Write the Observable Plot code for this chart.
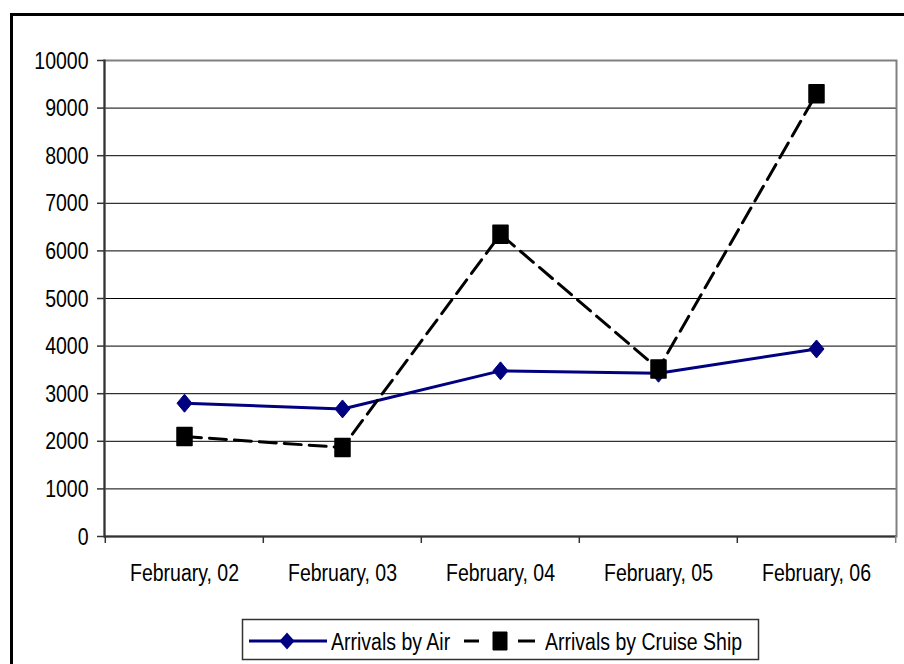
<!DOCTYPE html>
<html>
<head>
<meta charset="utf-8">
<script src="https://cdn.jsdelivr.net/npm/d3@7"></script>
<script src="https://cdn.jsdelivr.net/npm/@observablehq/plot@0.6"></script>
<style>
  html, body { margin: 0; padding: 0; width: 904px; height: 664px; overflow: hidden; background: #fff; }
  #wrap { position: relative; width: 904px; height: 664px; font-family: "Liberation Sans", Arial, sans-serif; }
  #outer { position: absolute; left: 10px; top: 13px; width: 1000px; height: 1000px; border: 3px solid #000; box-sizing: border-box; }
  #chart { position: absolute; left: 0; top: 0; }
  #legend { position: absolute; left: 0; top: 0; }
</style>
</head>
<body>
<div id="wrap">
  <div id="outer"></div>
  <div id="chart"></div>
  <svg id="legend" width="904" height="664"></svg>
</div>
<script>
const categories = ["February, 02", "February, 03", "February, 04", "February, 05", "February, 06"];
const airArrivals = [2800, 2680, 3480, 3430, 3940];
const cruiseArrivals = [2100, 1870, 6350, 3520, 9300];
const yTicks = [0, 1000, 2000, 3000, 4000, 5000, 6000, 7000, 8000, 9000, 10000];
const seriesNames = ["Arrivals by Air", "Arrivals by Cruise Ship"];

const airData = categories.map((c, i) => ({category: c, value: airArrivals[i]}));
const cruiseData = categories.map((c, i) => ({category: c, value: cruiseArrivals[i]}));

const W = 904, H = 610;
const mL = 104, mR = 8, mT = 60, mB = H - 536;
const bw = (W - mL - mR) / categories.length;
const FS = 19.5;

const diamond = {draw(ctx) { ctx.moveTo(0, -9); ctx.lineTo(7.5, 0); ctx.lineTo(0, 9); ctx.lineTo(-7.5, 0); ctx.closePath(); }};
const square = {draw(ctx) { ctx.rect(-7.5, -9, 15, 18); }};

const fontFam = '"Liberation Sans", Arial, sans-serif';

const plot = Plot.plot({
  width: W, height: H,
  marginLeft: mL, marginRight: mR, marginTop: mT, marginBottom: mB,
  style: {fontFamily: fontFam, fontSize: FS + "px", color: "#000", background: "transparent", overflow: "visible"},
  x: {type: "band", domain: categories, padding: 0, label: null},
  y: {domain: [0, 10000], label: null},
  marks: [
    Plot.gridY(yTicks.filter(t => t > 0 && t < 10000), {stroke: "#000", strokeOpacity: 1, strokeWidth: 1}),
    Plot.frame({stroke: "#808080", strokeWidth: 2}),
    Plot.frame({anchor: "left", stroke: "#333", strokeWidth: 2}),
    Plot.ruleY([0], {stroke: "#333", strokeWidth: 2}),
    Plot.axisY(yTicks, {tickSize: 7, tickPadding: 9, stroke: "#333", strokeWidth: 1.5, fontSize: FS, tickFormat: d => String(d), label: null}),
    Plot.axisX({tickSize: 0, tickPadding: 29, fontSize: FS, label: null}),
    Plot.ruleX(categories, {x: d => d, dx: -bw / 2, y1: 0, y2: 0, insetBottom: -7, stroke: "#333", strokeWidth: 1.5}),
    Plot.ruleX(categories.slice(-1), {x: d => d, dx: bw / 2, y1: 0, y2: 0, insetBottom: -7, stroke: "#808080", strokeWidth: 1.5}),
    Plot.line(airData, {x: "category", y: "value", stroke: "#000080", strokeWidth: 3}),
    Plot.dot(airData, {x: "category", y: "value", symbol: diamond, fill: "#000080", stroke: "#000080", strokeWidth: 1}),
    Plot.line(cruiseData, {x: "category", y: "value", stroke: "#000", strokeWidth: 3, strokeDasharray: "17,8"}),
    Plot.dot(cruiseData, {x: "category", y: "value", symbol: square, fill: "#000", stroke: "#000", strokeWidth: 1.5, strokeLinejoin: "round"})
  ]
});
document.getElementById("chart").appendChild(plot);

// Legend
const lg = d3.select("#legend");
lg.append("rect").attr("x", 242.5).attr("y", 619.5).attr("width", 516).attr("height", 40)
  .attr("fill", "#fff").attr("stroke", "#333").attr("stroke-width", 1.5);
const ly = 641;
lg.append("line").attr("x1", 249).attr("x2", 327).attr("y1", ly).attr("y2", ly).attr("stroke", "#000080").attr("stroke-width", 3);
lg.append("path").attr("transform", `translate(287,${ly})`).attr("d", "M0,-8.5L7.5,0L0,8.5L-7.5,0Z").attr("fill", "#000080");
lg.append("text").attr("x", 331).attr("y", ly).attr("dy", "0.35em").attr("font-family", fontFam).attr("font-size", FS).text(seriesNames[0]);
lg.append("line").attr("x1", 464).attr("x2", 479).attr("y1", ly).attr("y2", ly).attr("stroke", "#000").attr("stroke-width", 3);
lg.append("line").attr("x1", 518).attr("x2", 535).attr("y1", ly).attr("y2", ly).attr("stroke", "#000").attr("stroke-width", 3);
lg.append("rect").attr("x", 493).attr("y", ly - 9).attr("width", 14).attr("height", 18).attr("fill", "#000").attr("stroke", "#000").attr("stroke-linejoin", "round");
lg.append("text").attr("x", 545).attr("y", ly).attr("dy", "0.35em").attr("font-family", fontFam).attr("font-size", FS).text(seriesNames[1]);

// Stretch all text vertically (reference glyphs are taller than wide)
document.querySelectorAll("#wrap svg text").forEach(t => {
  const b = t.getBBox();
  const cy = b.y + b.height / 2;
  const prev = t.getAttribute("transform") || "";
  t.setAttribute("transform", `${prev} translate(0,${cy}) scale(1,1.25) translate(0,${-cy})`.trim());
});
</script>
</body>
</html>
